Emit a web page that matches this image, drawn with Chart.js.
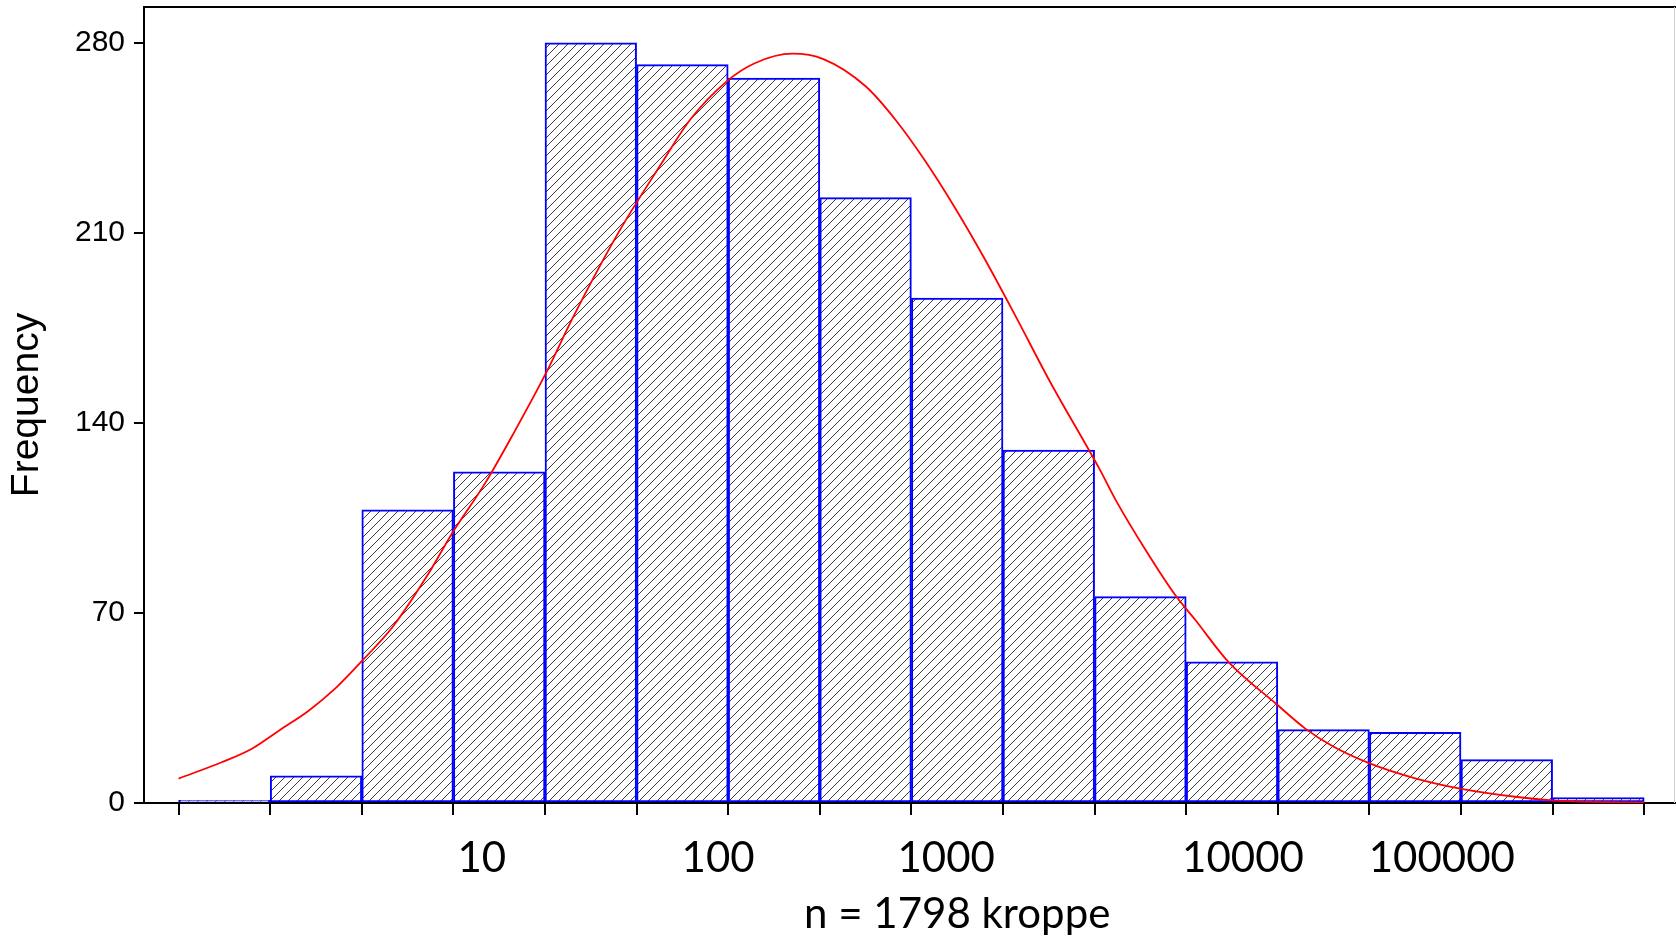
<!DOCTYPE html>
<html>
<head>
<meta charset="utf-8">
<script src="https://cdn.jsdelivr.net/npm/chart.js@4.4.1/dist/chart.umd.min.js"></script>
<style>
  html, body { margin: 0; padding: 0; background: #fff; }
  #wrap { width: 1676px; height: 937px; }
</style>
</head>
<body>
<div id="wrap"><canvas id="histo" width="1676" height="937"></canvas></div>
<script>
// counts per bin, left to right
const binCounts = [1, 10, 108, 122, 280, 272, 267, 223, 186, 130, 76, 52, 27, 26, 16, 2];

// fitted curve (x in bin units, y = frequency)
const curveX = [0, 0.47, 0.8, 1.11, 1.42, 1.72, 2.01, 2.34, 2.73, 2.98, 3.35, 3.67, 4.02, 4.3, 4.8,
  5.28, 5.58, 5.99, 6.29, 6.7, 7.04, 7.5, 7.83, 8.14, 8.48, 8.79, 9.15, 9.5, 10.06, 10.24, 10.56,
  10.88, 11.1, 11.46, 12.0, 12.3, 12.61, 13.01, 13.51, 13.99, 14.59, 14.99, 15.47, 16.0];
const curveY = [9, 15, 20, 27, 34, 42.5, 52.6, 65, 84.6, 99, 118, 137, 159, 178.5, 210,
  236, 251.5, 266, 272.5, 276, 274, 264, 251.5, 237, 219, 201, 178.5, 156, 122.6, 111, 93,
  76.6, 67.4, 52, 36, 27.4, 20.7, 14.5, 9, 5.3, 2.3, 1.0, 0.4, 0.2];

// axis ticks
const yTicks = [0, 70, 140, 210, 280];
const xTickLabels = ['10', '100', '1000', '10000', '100000'];
const xTickLabelAt = [3.31, 5.89, 8.38, 11.62, 13.79];

const yTitle = 'Frequency';
const xTitle = 'n = 1798 kroppe';
const xTitleAt = 8.5;

// diagonal hatch used as bar fill
function makeHatch() {
  const s = 9;
  const c = document.createElement('canvas');
  c.width = s; c.height = s;
  const g = c.getContext('2d');
  g.fillStyle = '#fff';
  g.fillRect(0, 0, s, s);
  g.strokeStyle = '#3c3c3c';
  g.lineWidth = 1;
  g.beginPath();
  [-s, 0, s].forEach((off) => {
    g.moveTo(off - 1, s + 1);
    g.lineTo(off + s + 1, -1);
  });
  g.stroke();
  return g.createPattern(c, 'repeat');
}

const bars = binCounts.map((v, i) => ({ x: i + 0.5, y: v }));
const curve = curveX.map((x, i) => ({ x: x, y: curveY[i] }));

const frame = {
  id: 'frame',
  beforeDatasetsDraw(chart) {
    const { ctx, chartArea: a } = chart;
    ctx.save();
    ctx.strokeStyle = '#000';
    ctx.lineWidth = 2;
    ctx.beginPath();
    ctx.moveTo(a.left, a.top);
    ctx.lineTo(a.right, a.top);
    ctx.stroke();
    ctx.strokeStyle = '#cfcfcf';
    ctx.lineWidth = 1;
    ctx.beginPath();
    ctx.moveTo(a.right - 1.5, a.top);
    ctx.lineTo(a.right - 1.5, a.bottom);
    ctx.stroke();
    ctx.restore();
  },
  afterDraw(chart) {
    // x title sits off-centre in the original, so draw it here
    const { ctx } = chart;
    const x = chart.scales.x.getPixelForValue(xTitleAt);
    ctx.save();
    ctx.font = '42px Lato';
    ctx.fillStyle = '#000';
    ctx.textAlign = 'center';
    ctx.textBaseline = 'alphabetic';
    ctx.fillText(xTitle, x, 928);
    ctx.restore();
  }
};

const ctx = document.getElementById('histo').getContext('2d');
const chart = new Chart(ctx, {
  type: 'bar',
  data: {
    datasets: [
      {
        type: 'line',
        data: curve,
        borderColor: '#ff0000',
        borderWidth: 1.8,
        pointRadius: 0,
        cubicInterpolationMode: 'monotone',
        order: 0
      },
      {
        type: 'bar',
        data: bars,
        backgroundColor: makeHatch(),
        borderColor: '#0000ff',
        borderWidth: 2,
        borderSkipped: false,
        barPercentage: 1,
        categoryPercentage: 1,
        order: 1
      }
    ]
  },
  options: {
    responsive: false,
    animation: false,
    layout: { padding: { top: 7, left: 0, right: 0, bottom: 0 } },
    plugins: {
      legend: { display: false },
      tooltip: { enabled: false }
    },
    scales: {
      x: {
        type: 'linear',
        min: -0.3777,
        max: 16.347,
        offset: false,
        afterFit: (s) => {
          s.height = 134;
          s.paddingLeft = 0;
          s.paddingRight = 0;
        },
        afterBuildTicks: (s) => {
          const t = [];
          for (let i = 0; i <= binCounts.length; i++) t.push({ value: i });
          xTickLabelAt.forEach((v) => t.push({ value: v }));
          s.ticks = t;
        },
        border: { display: true, color: '#000', width: 2 },
        grid: {
          offset: false,
          drawOnChartArea: false,
          drawTicks: true,
          tickLength: 12,
          lineWidth: 2,
          color: (c) => (c.tick && Number.isInteger(c.tick.value) ? '#000' : 'rgba(0,0,0,0)')
        },
        ticks: {
          autoSkip: false,
          maxRotation: 0,
          minRotation: 0,
          padding: 18,
          color: '#000',
          font: { family: 'Lato', size: 42 },
          callback: (v) => {
            const k = xTickLabelAt.indexOf(v);
            return k >= 0 ? xTickLabels[k] : '';
          }
        }
      },
      y: {
        min: 0,
        max: 293.2,
        afterFit: (s) => {
          s.width = 144;
          s.paddingTop = 0;
          s.paddingBottom = 0;
        },
        afterBuildTicks: (s) => { s.ticks = yTicks.map((v) => ({ value: v })); },
        border: { display: true, color: '#000', width: 2 },
        grid: {
          drawOnChartArea: false,
          drawTicks: true,
          tickLength: 10,
          lineWidth: 2,
          color: '#000'
        },
        ticks: {
          padding: 9,
          color: '#000',
          font: { family: "'Liberation Sans Narrow', 'Liberation Sans', Arial, sans-serif", size: 30 }
        },
        title: {
          display: true,
          text: yTitle,
          color: '#000',
          padding: { top: 4, bottom: 0 },
          font: { family: "'Liberation Sans', Arial, sans-serif", size: 39 }
        }
      }
    }
  },
  plugins: [frame]
});
</script>
</body>
</html>
